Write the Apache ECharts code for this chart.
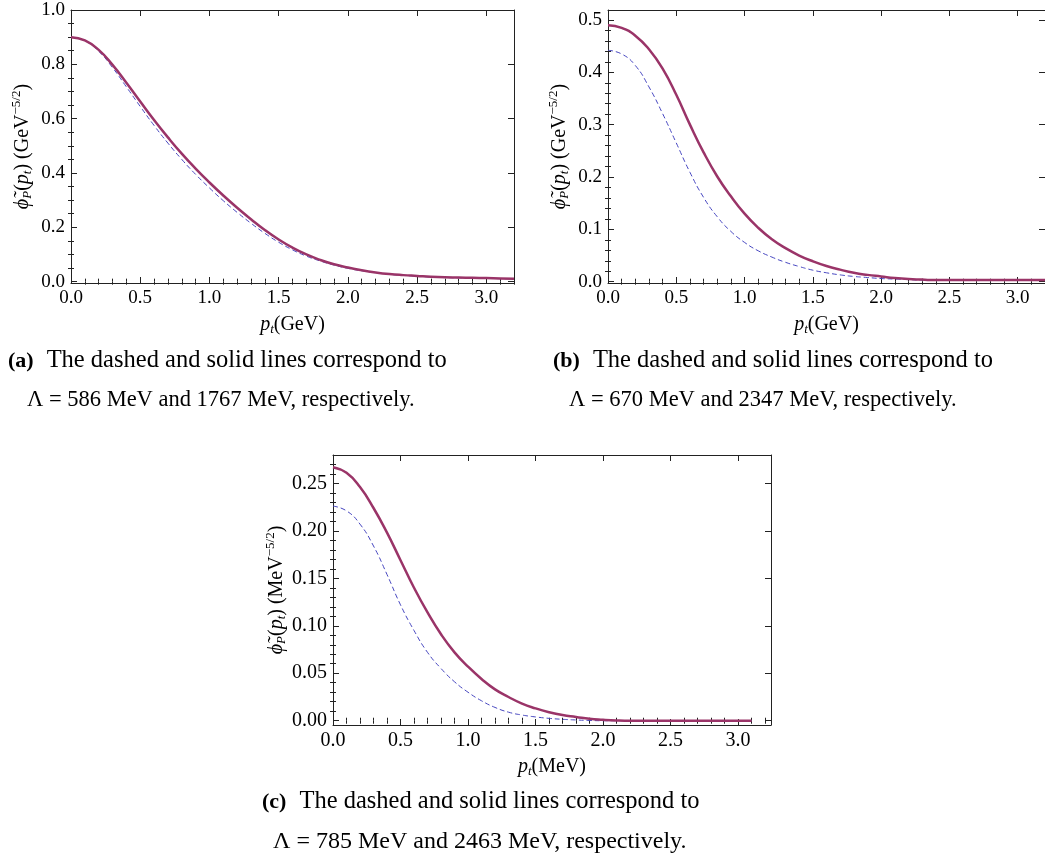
<!DOCTYPE html>
<html lang="en">
<head>
<meta charset="UTF-8">
<script src="https://cdn.jsdelivr.net/npm/echarts@6/dist/echarts.min.js"></script>
<style>
  html, body { margin: 0; padding: 0; background: #ffffff; }
  #main { width: 1045px; height: 858px; }
</style>
</head>
<body>
<div id="main"></div>
<script>
// p_t sample points (same grid for every panel)
var pt = [0.0, 0.1, 0.2, 0.3, 0.4, 0.5, 0.6, 0.7, 0.8, 0.9, 1.0, 1.1, 1.2, 1.3, 1.4, 1.5, 1.6,
          1.7, 1.8, 1.9, 2.0, 2.1, 2.2, 2.3, 2.4, 2.5, 2.6, 2.7, 2.8, 2.9, 3.0, 3.1, 3.2];

// (a) Lambda = 586 MeV (dashed), 1767 MeV (solid)
var dashedA = [0.900, 0.887, 0.848, 0.788, 0.717, 0.645, 0.575, 0.510, 0.450, 0.395, 0.345,
               0.298, 0.255, 0.215, 0.178, 0.145, 0.117, 0.094, 0.076, 0.061, 0.049, 0.040,
               0.033, 0.027, 0.023, 0.020, 0.017, 0.015, 0.014, 0.013, 0.012, 0.011, 0.010];
var solidA  = [0.900, 0.888, 0.853, 0.798, 0.732, 0.663, 0.595, 0.531, 0.471, 0.416, 0.365,
               0.317, 0.272, 0.230, 0.190, 0.155, 0.125, 0.100, 0.080, 0.064, 0.052, 0.042,
               0.034, 0.028, 0.024, 0.021, 0.018, 0.016, 0.015, 0.014, 0.013, 0.012, 0.011];

// (b) Lambda = 670 MeV (dashed), 2347 MeV (solid)
var dashedB = [0.442, 0.435, 0.413, 0.372, 0.321, 0.265, 0.209, 0.161, 0.124, 0.096, 0.075,
               0.059, 0.047, 0.037, 0.029, 0.022, 0.017, 0.013, 0.010, 0.008, 0.006, 0.005,
               0.004, 0.003, 0.003, 0.003, 0.003, 0.003, 0.003, 0.003, 0.003, 0.003, 0.003];
var solidB  = [0.490, 0.485, 0.470, 0.444, 0.407, 0.357, 0.300, 0.247, 0.201, 0.163, 0.130,
               0.103, 0.081, 0.064, 0.050, 0.039, 0.030, 0.023, 0.017, 0.013, 0.010, 0.007,
               0.005, 0.004, 0.003, 0.003, 0.003, 0.003, 0.003, 0.003, 0.003, 0.003, 0.003];

// (c) Lambda = 785 MeV (dashed), 2463 MeV (solid), stops at 3.1
var dashedC = [0.226, 0.221, 0.207, 0.184, 0.154, 0.122, 0.095, 0.072, 0.055, 0.041, 0.030,
               0.021, 0.014, 0.009, 0.006, 0.004, 0.0025, 0.0015, 0.0008, 0.0003, 0.0, 0.0,
               0.0, 0.0, 0.0, 0.0, 0.0, 0.0, 0.0, 0.0, 0.0, 0.0];
var solidC  = [0.267, 0.261, 0.246, 0.224, 0.198, 0.169, 0.140, 0.114, 0.091, 0.072, 0.057,
               0.044, 0.033, 0.025, 0.018, 0.013, 0.009, 0.006, 0.004, 0.002, 0.001, 0.0003,
               0.0, 0.0, 0.0, 0.0, 0.0, 0.0, 0.0, 0.0, 0.0, 0.0];

// tick labels
var xTicks  = [0.0, 0.5, 1.0, 1.5, 2.0, 2.5, 3.0];
var yTicksA = [0.0, 0.2, 0.4, 0.6, 0.8, 1.0];
var yTicksB = [0.0, 0.1, 0.2, 0.3, 0.4, 0.5];
var yTicksC = [0.00, 0.05, 0.10, 0.15, 0.20, 0.25];

var captions = [
  ['(a)', 'The dashed and solid lines correspond to', '\u039b = 586 MeV and 1767 MeV, respectively.'],
  ['(b)', 'The dashed and solid lines correspond to', '\u039b = 670 MeV and 2347 MeV, respectively.'],
  ['(c)', 'The dashed and solid lines correspond to', '\u039b = 785 MeV and 2463 MeV, respectively.']
];

var FONT = 'Liberation Serif';
var SOLID = '#9a3468';
var DASH = '#4646c0';

function pairs(xs, ys) {
  return ys.map(function (v, i) { return [xs[i], v]; });
}

function minorTicks(min, max, step, majors) {
  var out = [];
  for (var v = Math.ceil(min / step) * step; v <= max + 1e-9; v += step) {
    var r = Math.round(v * 1000) / 1000;
    if (majors.every(function (m) { return Math.abs(m - r) > 1e-6; })) out.push(r);
  }
  return out;
}

var richName = function (size) {
  return {
    n:   { fontFamily: FONT, fontSize: size, color: '#000' },
    it:  { fontFamily: FONT, fontSize: size, fontStyle: 'italic', color: '#000' },
    sub: { fontFamily: FONT, fontSize: Math.round(size * 0.65), fontStyle: 'italic', color: '#000', padding: [10, 0, 0, 0] },
    sup: { fontFamily: FONT, fontSize: Math.round(size * 0.65), color: '#000', padding: [0, 0, 12, 0] }
  };
};

var panels = [
  { grid: { left: 71, top: 10, width: 443, height: 273 }, xMax: 3.2, yMin: -0.005, yMax: 1.0,
    yTicks: yTicksA, yStep: 0.05, digits: 1, unit: 'GeV', fs: 19, ns: 20, yGap: 36, series: [dashedA, solidA], n: 33 },
  { grid: { left: 608, top: 10, width: 437, height: 273 }, xMax: 3.2, yMin: -0.0025, yMax: 0.519,
    yTicks: yTicksB, yStep: 0.02, digits: 1, unit: 'GeV', fs: 19, ns: 20, yGap: 36, series: [dashedB, solidB], n: 33 },
  { grid: { left: 333, top: 455, width: 438, height: 270 }, xMax: 3.244, yMin: -0.0045, yMax: 0.2798,
    yTicks: yTicksC, yStep: 0.01, digits: 2, unit: 'MeV', fs: 20, ns: 20, yGap: 44, series: [dashedC, solidC], n: 32 }
];

var grids = [], xAxes = [], yAxes = [], series = [];

panels.forEach(function (p, k) {
  grids.push(p.grid);
  var xMinor = minorTicks(0, p.xMax, 0.1, xTicks);
  var yMinor = minorTicks(p.yMin, p.yMax, p.yStep, p.yTicks);
  var line = { show: true, onZero: false, lineStyle: { color: '#222', width: 1 } };

  function ax(pos, main, majors, minors, withLine, len) {
    return {
      type: 'value', gridIndex: k, position: pos,
      axisLine: withLine ? line : { show: false },
      splitLine: { show: false },
      axisTick: { show: true, inside: true, length: len, lineStyle: { color: '#222', width: 1 },
                  customValues: main ? majors : minors },
      axisLabel: { show: false }
    };
  }

  // x axes: bottom major (labels), bottom minor, top major, top minor
  var xb = ax('bottom', true, xTicks, xMinor, true, 6);
  xb.axisLabel = { show: true, customValues: xTicks, margin: 6, fontFamily: FONT, fontSize: p.fs, color: '#000',
                   formatter: function (v) { return v.toFixed(1); } };
  xb.name = '{it|p}{sub|t}{n|(' + p.unit + ')}';
  xb.nameLocation = 'middle';
  xb.nameGap = 30;
  xb.nameTextStyle = { rich: richName(p.ns) };
  var xList = [xb, ax('bottom', false, xTicks, xMinor, false, 3),
               ax('top', true, xTicks, xMinor, true, 6), ax('top', false, xTicks, xMinor, false, 3)];
  xList.forEach(function (a) { a.min = 0; a.max = p.xMax; xAxes.push(a); });

  var yl = ax('left', true, p.yTicks, yMinor, true, 6);
  yl.axisLabel = { show: true, customValues: p.yTicks, margin: 6, fontFamily: FONT, fontSize: p.fs, color: '#000',
                   formatter: function (v) { return v.toFixed(p.digits); } };
  yl.name = '{it|\u03d5\u0303}{sub|P}{n|(}{it|p}{sub|t}{n|) (' + p.unit + '}{sup|\u22125/2}{n|)}';
  yl.nameLocation = 'middle';
  yl.nameRotate = 90;
  yl.nameGap = p.yGap;
  yl.nameTextStyle = { rich: richName(p.ns) };
  var yList = [yl, ax('left', false, p.yTicks, yMinor, false, 3),
               ax('right', true, p.yTicks, yMinor, true, 6), ax('right', false, p.yTicks, yMinor, false, 3)];
  yList.forEach(function (a) { a.min = p.yMin; a.max = p.yMax; yAxes.push(a); });

  var xs = pt.slice(0, p.n);
  series.push({
    type: 'line', xAxisIndex: 4 * k, yAxisIndex: 4 * k, showSymbol: false, smooth: 0.5,
    data: pairs(xs, p.series[0]), lineStyle: { color: DASH, width: 1, type: [5, 3] }, z: 2
  });
  series.push({
    type: 'line', xAxisIndex: 4 * k, yAxisIndex: 4 * k, showSymbol: false, smooth: 0.5,
    data: pairs(xs, p.series[1]), lineStyle: { color: SOLID, width: 2.5 }, z: 3
  });
});

// captions under each panel (panel c is printed slightly larger)
var capPos = [
  { x1: 8, x2: 27, y1: 361, y2: 400, f2: 22.5 },
  { x1: 553, x2: 569, y1: 361, y2: 400, f2: 22.5 },
  { x1: 262, x2: 273, y1: 802, y2: 842, f2: 24 }
];
var graphics = [];
captions.forEach(function (c, i) {
  var q = capPos[i];
  graphics.push({
    type: 'text', x: q.x1, y: q.y1,
    style: { text: '{b|' + c[0] + '}' + c[1], fontFamily: FONT, fontSize: 24.5, fill: '#000',
             textVerticalAlign: 'middle',
             rich: { b: { fontFamily: FONT, fontSize: 22, fontWeight: 'bold', color: '#000', padding: [0, 13, 0, 0] } } }
  });
  graphics.push({
    type: 'text', x: q.x2, y: q.y2,
    style: { text: c[2], fontFamily: FONT, fontSize: q.f2, fill: '#000', textVerticalAlign: 'middle' }
  });
});

var chart = echarts.init(document.getElementById('main'));
chart.setOption({
  backgroundColor: '#ffffff',
  animation: false,
  grid: grids,
  xAxis: xAxes,
  yAxis: yAxes,
  series: series,
  graphic: graphics
});
</script>
</body>
</html>
